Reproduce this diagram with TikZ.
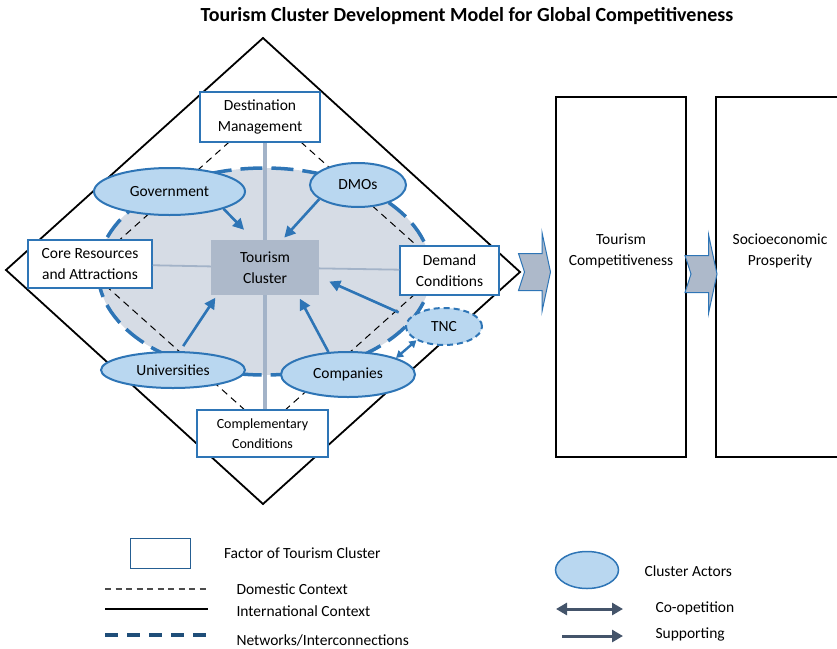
\documentclass[tikz,border=0pt]{standalone}
\usepackage{fontspec}
\setmainfont{Carlito}
\usetikzlibrary{positioning,arrows.meta,shapes.geometric}

\definecolor{blueline}{HTML}{2E75B6}
\definecolor{actorfill}{HTML}{B9D7F0}
\definecolor{netfill}{HTML}{D6DCE5}
\definecolor{clusterfill}{HTML}{ADB9CA}
\definecolor{crossgray}{HTML}{A3B3C8}
\definecolor{darkblue}{HTML}{1F4E79}
\definecolor{slate}{HTML}{44546A}

\newcommand{\boxfont}{\fontsize{15.5}{21}\selectfont}

\tikzset{
  factor/.style={rectangle, draw=blueline, line width=1.5pt, fill=white, align=center, inner sep=0pt},
  actor/.style={ellipse, draw=blueline, line width=2pt, fill=actorfill, inner sep=0pt},
  support/.style={draw=blueline, line width=2.6pt, -{Triangle[length=11pt,width=11pt]}},
  crossline/.style={draw=crossgray, line width=4pt},
  bigbox/.style={rectangle, draw=black, line width=1.6pt, minimum width=130pt, minimum height=360pt},
  flow/.pic={
    \filldraw[fill=clusterfill, draw=blueline, line width=1pt]
      (-16,-18.5) -- (7.5,-18.5) -- (7.5,-39.5) -- (16,0) -- (7.5,39.5)
      -- (7.5,18.5) -- (-16,18.5) -- (-10,0) -- cycle;
  }
}

\begin{document}
\begin{tikzpicture}[x=1pt, y=-1pt, font=\boxfont]
    \clip (0,0) rectangle (837,648);

    \node[font=\bfseries\fontsize{20}{24}\selectfont] (title) at (467,16) {Tourism Cluster Development Model for Global Competitiveness};

    % networks area
    \draw[fill=netfill, draw=blueline, line width=3.5pt, dash pattern=on 22pt off 9pt] (264.5,271.5) ellipse [x radius=166.5pt, y radius=103.5pt];

    % international and domestic context
    \draw[line width=1.8pt] (263,38) -- (520,272) -- (263,504) -- (6,270) -- cycle;
    \draw[line width=1pt, dash pattern=on 7pt off 5pt] (265,110) -- (443,269) -- (265,428) -- (87,269) -- cycle;

    % factors
    \node[rectangle, fill=clusterfill, align=center, minimum width=108pt, minimum height=55pt] (cluster) at (265,267.5) {Tourism\\Cluster};
    \node[factor, minimum width=120pt, minimum height=50pt] (dest) at (260,117) {Destination\\Management};
    \node[factor, minimum width=124pt, minimum height=48pt] (core) at (90,264) {Core Resources\\and Attractions};
    \node[factor, minimum width=99pt, minimum height=49pt] (demand) at (449.5,270.5) {Demand\\Conditions};
    \node[factor, minimum width=131pt, minimum height=47pt, font=\fontsize{14}{20}\selectfont] (compl) at (262.5,433.5) {Complementary\\Conditions};

    \draw[crossline] (dest.south -| cluster) -- (cluster);
    \draw[crossline] (cluster) -- (compl.north -| cluster);
    \draw[crossline, line width=1.8pt] (core) -- (cluster);
    \draw[crossline, line width=1.8pt] (cluster) -- (demand);

    % actors
    \node[actor, minimum width=151pt, minimum height=47pt] (gov) at (169.5,191.5) {Government};
    \node[actor, minimum width=96pt, minimum height=44pt] (dmos) at (358,185) {DMOs};
    \node[actor, minimum width=144pt, minimum height=36pt] (univ) at (173,370) {Universities};
    \node[actor, minimum width=134pt, minimum height=45pt] (comp) at (348,374.5) {Companies};
    \node[actor, dash pattern=on 6pt off 4pt, minimum width=76pt, minimum height=37pt] (tnc) at (444,326.5) {TNC};

    \draw[support, shorten >=14pt] (gov.south east) -- (cluster.112);
    \draw[support, shorten >=3pt] (dmos.200) -- (cluster.58);
    \draw[support, shorten <=6pt, shorten >=3pt] (univ.70) -- (cluster.210);
    \draw[support, shorten >=4pt] (comp.131) -- (cluster.-40);
    \draw[support, shorten <=12pt, shorten >=11pt] (tnc.165) -- (cluster.-10);
    \draw[support, line width=2.4pt, {Triangle[length=7pt,width=8pt]}-{Triangle[length=7pt,width=8pt]}] (comp.north east) -- (tnc.south west);

    % outcomes
    \node[bigbox] (compet) at (621,277) {};
    \node[bigbox, minimum width=128pt] (prosp) at (780,277) {};
    \node[align=center] (competlbl) at ([yshift=26pt]compet.center) {Tourism\\Competitiveness};
    \node[align=center] (prosplbl) at ([yshift=26pt]prosp.center) {Socioeconomic\\Prosperity};
    \pic at (534.5,272) {flow};
    \pic at (701,274) {flow};

    % legend
    \node[rectangle, draw=blueline!80!black, line width=1pt, minimum width=60pt, minimum height=30pt] (keybox) at (160,553) {};
    \node[right=30pt of keybox] (keyboxlbl) {Factor of Tourism Cluster};

    \coordinate (doma) at (105,589);
    \coordinate (domb) at (208,589);
    \coordinate (inta) at (105,609);
    \coordinate (intb) at (208,609);
    \coordinate (neta) at (105,635);
    \coordinate (netb) at (208,635);
    \draw[draw=black!70, line width=1.2pt, dash pattern=on 6pt off 4.5pt] (doma) -- (domb);
    \draw[line width=2pt] (inta) -- (intb);
    \draw[draw=darkblue, line width=3.5pt, dash pattern=on 13pt off 9pt] (neta) -- (netb);
    \node[anchor=west] (domlbl) at (233,589) {Domestic Context};
    \node[anchor=west] (intlbl) at (233,611) {International Context};
    \node[anchor=west] (netlbl) at (233,640) {Networks/Interconnections};

    \node[actor, line width=1.5pt, minimum width=63pt, minimum height=37pt] (keyactor) at (587,570) {};
    \node[anchor=west] (keyactorlbl) at (641,571) {Cluster Actors};

    \coordinate (coopa) at (556,609);
    \coordinate (coopb) at (623,609);
    \coordinate (supa) at (562,636);
    \coordinate (supb) at (623,636);
    \draw[draw=slate, line width=3pt, {Triangle[length=11pt,width=12pt]}-{Triangle[length=11pt,width=12pt]}] (coopa) -- (coopb);
    \draw[draw=slate, line width=3pt, -{Triangle[length=11pt,width=12pt]}] (supa) -- (supb);
    \node[anchor=west] (cooplbl) at (652,608) {Co-opetition};
    \node[anchor=west] (suplbl) at (652,634) {Supporting};
\end{tikzpicture}
\end{document}
